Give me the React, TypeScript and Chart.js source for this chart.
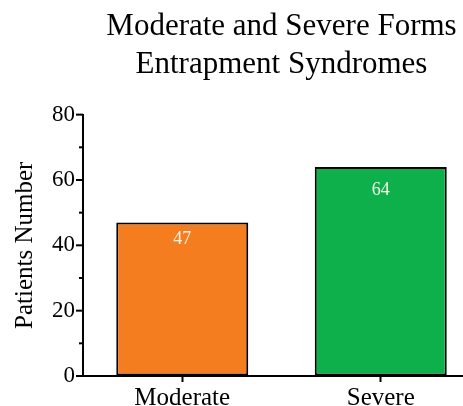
import React, { useEffect, useRef } from "react";
import { Chart, registerables } from "chart.js";

Chart.register(...registerables);

const categories = ["Moderate", "Severe"];
const patients = [47, 64];
const barColors = ["#F47D20", "#0DB04B"];
const titleLines = ["Moderate and Severe Forms", "Entrapment Syndromes"];
const yAxisTitle = "Patients Number";
const yTicks = [0, 10, 20, 30, 40, 50, 60, 70, 80];

const FONT = "'Liberation Serif', 'Times New Roman', serif";

const minorTickPlugin = {
  id: "minorTicks",
  afterDraw(chart: any) {
    const y = chart.scales.y;
    const ctx = chart.ctx;
    const x0 = chart.chartArea.left;
    ctx.save();
    ctx.strokeStyle = "#000";
    ctx.lineWidth = 2;
    y.ticks.forEach((t: any) => {
      const py = y.getPixelForValue(t.value);
      const len = t.value % 20 === 0 ? 7 : 4;
      ctx.beginPath();
      ctx.moveTo(x0 - len, py);
      ctx.lineTo(x0, py);
      ctx.stroke();
    });
    ctx.restore();
  },
};

const valueLabelPlugin = {
  id: "valueLabels",
  afterDatasetsDraw(chart: any) {
    const ctx = chart.ctx;
    const y = chart.scales.y;
    const meta = chart.getDatasetMeta(0);
    ctx.save();
    ctx.fillStyle = "#F4F4E6";
    ctx.font = `18px ${FONT}`;
    ctx.textAlign = "center";
    ctx.textBaseline = "middle";
    meta.data.forEach((bar: any, i: number) => {
      const v = patients[i];
      ctx.fillText(String(v), bar.x, y.getPixelForValue(v * 0.89));
    });
    ctx.restore();
  },
};

export default function App() {
  const ref = useRef<HTMLCanvasElement>(null);
  useEffect(() => {
    if (!ref.current) return;
    const chart = new Chart(ref.current, {
      type: "bar",
      data: {
        labels: categories,
        datasets: [
          {
            data: patients,
            backgroundColor: barColors,
            borderColor: "#000",
            borderWidth: 2,
            borderSkipped: false,
            barPercentage: 0.665,
            categoryPercentage: 1,
          },
        ],
      },
      options: {
        responsive: false,
        animation: false,
        layout: { padding: 0 },
        plugins: {
          legend: { display: false },
          tooltip: { enabled: false },
          title: {
            display: true,
            fullSize: false,
            text: titleLines,
            color: "#000",
            font: { family: FONT, size: 31, weight: "normal", lineHeight: 1.22 },
            padding: { top: 8, bottom: 31 },
          },
        },
        scales: {
          x: {
            type: "category",
            offset: true,
            afterFit: (s: any) => {
              s.height = 30;
            },
            grid: {
              offset: false,
              drawOnChartArea: false,
              drawTicks: true,
              tickLength: 6,
              tickColor: "#000",
              tickWidth: 2,
            },
            border: { color: "#000", width: 2 },
            ticks: {
              padding: 1,
              color: "#000",
              font: { family: FONT, size: 25 },
              maxRotation: 0,
            },
          },
          y: {
            min: 0,
            max: 80,
            afterBuildTicks: (s: any) => {
              s.ticks = yTicks.map((v) => ({ value: v }));
            },
            afterFit: (s: any) => {
              s.width = 83;
            },
            grid: { drawOnChartArea: false, drawTicks: false },
            border: { color: "#000", width: 2 },
            ticks: {
              padding: 8,
              color: "#000",
              font: { family: FONT, size: 23 },
              callback: (v: any) => (v % 20 === 0 ? String(v) : ""),
            },
            title: {
              display: true,
              text: yAxisTitle,
              color: "#000",
              font: { family: FONT, size: 25 },
              padding: { top: 10, bottom: 0 },
            },
          },
        },
      },
      plugins: [minorTickPlugin, valueLabelPlugin],
    });
    return () => chart.destroy();
  }, []);
  return (
    <div
      style={{
        position: "fixed",
        left: 0,
        top: 0,
        width: 463,
        height: 406,
        overflow: "hidden",
        background: "#fff",
      }}
    >
      <canvas ref={ref} width={480} height={406} style={{ display: "block" }} />
    </div>
  );
}
